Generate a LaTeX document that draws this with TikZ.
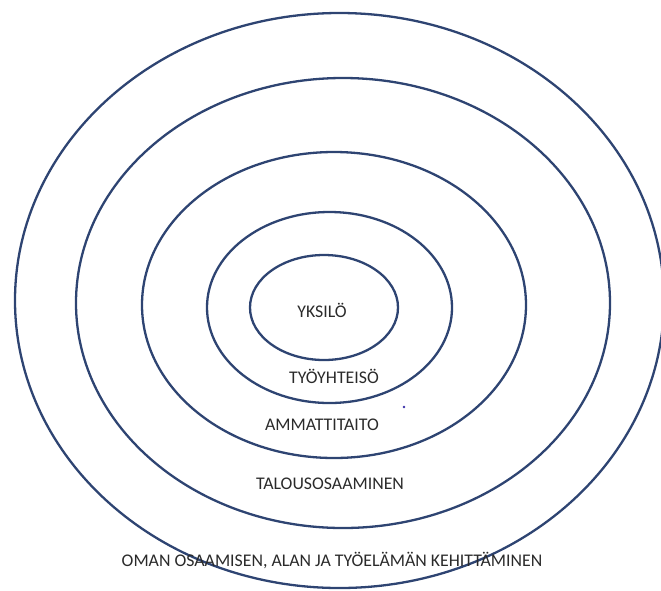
\documentclass[tikz,border=0pt]{standalone}
\usepackage{fontspec}
\setmainfont{Carlito}
\usepackage{tikz}
\usetikzlibrary{positioning}
\usepackage{xcolor}
\definecolor{ringblue}{HTML}{2E4472}
\definecolor{ink}{HTML}{2A2A2A}
\definecolor{speck}{HTML}{3A2FA8}

\begin{document}
\begin{tikzpicture}[x=1pt, y=-1pt, font=\fontsize{17.8}{20}\selectfont,
    ring/.style={draw=ringblue, line width=2.3pt},
    lbl/.style={text=ink, anchor=base, inner sep=0pt}]
  \useasboundingbox (0,0) rectangle (661,590);
  \clip (0,0) rectangle (661,590);
  % rings, outermost first
  \foreach \cx/\cy/\rx/\ry in {339.5/300.5/324.5/287.5, 343/303/267/225,
      334/305/192/153, 329.5/307.5/122.5/95.5, 324/307.5/74/52.5}
    \draw[ring] (\cx,\cy) ellipse [x radius=\rx pt, y radius=\ry pt];
  % labels
  \node[lbl] (yksilo) at (322,317) {YKSILÖ};
  \node[lbl] (tyoyhteiso) at (334,383) {TYÖYHTEISÖ};
  \node[lbl] (ammatti) at (322,430) {AMMATTITAITO};
  \node[lbl] (talous) at (330,489) {TALOUSOSAAMINEN};
  \node[lbl] (kehitys) at (332,566) {OMAN OSAAMISEN, ALAN JA TYÖELÄMÄN KEHITTÄMINEN};
  \fill[speck] (404,407) circle [radius=1.4pt];
\end{tikzpicture}
\end{document}
